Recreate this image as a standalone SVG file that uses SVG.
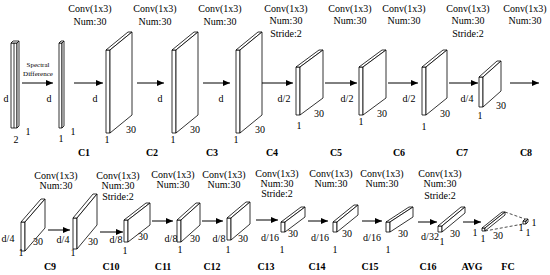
<svg xmlns="http://www.w3.org/2000/svg" width="550" height="275" viewBox="0 0 550 275">
<defs>
<marker id="ah" markerWidth="7" markerHeight="6" refX="7" refY="3" orient="auto" markerUnits="userSpaceOnUse"><path d="M0,0 L7,3 L0,6 z" fill="#000"/></marker>
</defs>
<style>
.b polygon{fill:#fff;stroke:#000;stroke-width:0.8;stroke-linejoin:miter}
.t{font-family:"Liberation Serif","Times New Roman",serif;font-size:10px;fill:#000;text-anchor:middle}
.s{font-size:7px}
.lb{font-weight:bold}
.a line{stroke:#000;stroke-width:1;marker-end:url(#ah)}
.d{stroke:#000;stroke-width:0.7;stroke-dasharray:3,2;fill:none}
</style>
<rect width="550" height="275" fill="#fff"/>
<g id="connectors" class="a">
<line x1="22" y1="83" x2="53" y2="83"/>
<line x1="74" y1="83" x2="103" y2="83"/>
<line x1="137" y1="83" x2="164" y2="83"/>
<line x1="203" y1="83" x2="230" y2="83"/>
<line x1="262" y1="83" x2="293" y2="83"/>
<line x1="325" y1="83" x2="357" y2="83"/>
<line x1="388" y1="83" x2="418" y2="83"/>
<line x1="449" y1="83" x2="478" y2="83"/>
<line x1="510" y1="83" x2="539" y2="83"/>
<line x1="48" y1="230" x2="70" y2="230"/>
<line x1="100" y1="232" x2="123" y2="232"/>
<line x1="152" y1="221" x2="173" y2="221"/>
<line x1="202" y1="221" x2="223" y2="221"/>
<line x1="256" y1="220" x2="278" y2="220"/>
<line x1="308" y1="221" x2="328" y2="221"/>
<line x1="362" y1="221" x2="382" y2="221"/>
<line x1="418" y1="222" x2="437" y2="222"/>
<line x1="463" y1="222" x2="481" y2="222"/>
<path class="d" d="M505,212 L525,219 M485,231 L523,224"/>
</g>
<g id="input" class="b">
<polygon points="11,43 17,43 17,128 11,128"/><polygon points="11,43 13,41 19,41 17,43"/><polygon points="17,43 19,41 19,126 17,128"/>
<line x1="14" y1="43" x2="14" y2="128" stroke="#000" stroke-width="0.8"/>
</g>
<g id="spec" class="b"><polygon points="59,43 62,43 62,128 59,128"/><polygon points="59,43 61,41 64,41 62,43"/><polygon points="62,43 64,41 64,126 62,128"/></g>
<g id="b1" class="b"><polygon points="106,50 110,50 110,133 106,133"/><polygon points="106,50 128,32 132,32 110,50"/><polygon points="110,50 132,32 132,115 110,133"/></g>
<g id="b2" class="b"><polygon points="172,50 176,50 176,133 172,133"/><polygon points="172,50 194,32 198,32 176,50"/><polygon points="176,50 198,32 198,115 176,133"/></g>
<g id="b3" class="b"><polygon points="236,50 240,50 240,133 236,133"/><polygon points="236,50 258,32 262,32 240,50"/><polygon points="240,50 262,32 262,115 240,133"/></g>
<g id="b4" class="b"><polygon points="296,67 300,67 300,115 296,115"/><polygon points="296,67 319,50 323,50 300,67"/><polygon points="300,67 323,50 323,98 300,115"/></g>
<g id="b5" class="b"><polygon points="359,67 363,67 363,115 359,115"/><polygon points="359,67 382,50 386,50 363,67"/><polygon points="363,67 386,50 386,98 363,115"/></g>
<g id="b6" class="b"><polygon points="422,67 426,67 426,115 422,115"/><polygon points="422,67 443,50 447,50 426,67"/><polygon points="426,67 447,50 447,98 426,115"/></g>
<g id="b7" class="b"><polygon points="479,77 483,77 483,107 479,107"/><polygon points="479,77 497,61 501,61 483,77"/><polygon points="483,77 501,61 501,91 483,107"/></g>
<g id="b8" class="b"><polygon points="21,222 25,222 25,251 21,251"/><polygon points="21,222 41,199 45,199 25,222"/><polygon points="25,222 45,199 45,228 25,251"/></g>
<g id="b9" class="b"><polygon points="73,218 77,218 77,249 73,249"/><polygon points="73,218 93,194 97,194 77,218"/><polygon points="77,218 97,194 97,225 77,249"/></g>
<g id="b10" class="b"><polygon points="124,220 128,220 128,242 124,242"/><polygon points="124,220 146,203 150,203 128,220"/><polygon points="128,220 150,203 150,225 128,242"/></g>
<g id="b11" class="b"><polygon points="177,220 181,220 181,242 177,242"/><polygon points="177,220 196,203 200,203 181,220"/><polygon points="181,220 200,203 200,225 181,242"/></g>
<g id="b12" class="b"><polygon points="227,218 231,218 231,240 227,240"/><polygon points="227,218 246,202 250,202 231,218"/><polygon points="231,218 250,202 250,224 231,240"/></g>
<g id="b13" class="b"><polygon points="281,222 285,222 285,232 281,232"/><polygon points="281,222 301,207 305,207 285,222"/><polygon points="285,222 305,207 305,217 285,232"/></g>
<g id="b14" class="b"><polygon points="333,222 337,222 337,232 333,232"/><polygon points="333,222 354,205 358,205 337,222"/><polygon points="337,222 358,205 358,215 337,232"/></g>
<g id="b15" class="b"><polygon points="386,222 390,222 390,232 386,232"/><polygon points="386,222 409,207 413,207 390,222"/><polygon points="390,222 413,207 413,217 390,232"/></g>
<g id="b16" class="b"><polygon points="438,226 442,226 442,232 438,232"/><polygon points="438,226 461,207 465,207 442,226"/><polygon points="442,226 465,207 465,213 442,232"/></g>
<g id="avg" class="b"><polygon points="482,228 485,228 485,231 482,231"/><polygon points="482,228 502,212 505,212 485,228"/><polygon points="485,228 505,212 505,215 485,231"/></g>
<g id="fc" class="b"><polygon points="523,221 526,221 526,224 523,224"/><polygon points="523,221 525,219 528,219 526,221"/><polygon points="526,221 528,219 528,222 526,224"/></g>
<g id="labels" class="t">
<text class="t s" x="38" y="67">Spectral</text><text class="t s" x="38" y="76">Difference</text>
<text x="90" y="12">Conv(1x3)</text><text x="90" y="25">Num:30</text>
<text x="155" y="12">Conv(1x3)</text><text x="155" y="25">Num:30</text>
<text x="220" y="12">Conv(1x3)</text><text x="220" y="25">Num:30</text>
<text x="286" y="12">Conv(1x3)</text><text x="286" y="24">Num:30</text><text x="286" y="37">Stride:2</text>
<text x="350" y="12">Conv(1x3)</text><text x="350" y="24">Num:30</text>
<text x="404" y="12">Conv(1x3)</text><text x="404" y="24">Num:30</text>
<text x="468" y="12">Conv(1x3)</text><text x="468" y="24">Num:30</text><text x="468" y="37">Stride:2</text>
<text x="525" y="12">Conv(1x3)</text><text x="525" y="24">Num:30</text>
<text x="6" y="102">d</text><text x="16" y="143">2</text><text x="28" y="135">1</text>
<text x="49" y="102">d</text><text x="61" y="142">1</text><text x="73" y="135">1</text>
<text x="95" y="102">d</text><text x="131" y="133">30</text><text x="107" y="143">1</text>
<text x="160" y="102">d</text><text x="195" y="133">30</text><text x="173" y="143">1</text>
<text x="221" y="102">d</text><text x="260" y="133">30</text><text x="236" y="143">1</text>
<text x="284" y="102">d/2</text><text x="319" y="117">30</text><text x="299" y="129">1</text>
<text x="347" y="102">d/2</text><text x="382" y="117">30</text><text x="361" y="125">1</text>
<text x="409" y="102">d/2</text><text x="445" y="117">30</text><text x="424" y="130">1</text>
<text x="467" y="102">d/4</text><text x="501" y="109">30</text><text x="480" y="119">1</text>
<text class="t lb" x="84" y="156">C1</text><text class="t lb" x="152" y="156">C2</text><text class="t lb" x="212" y="156">C3</text><text class="t lb" x="272" y="156">C4</text>
<text class="t lb" x="336" y="156">C5</text><text class="t lb" x="399" y="156">C6</text><text class="t lb" x="462" y="156">C7</text><text class="t lb" x="526" y="156">C8</text>
<text x="56" y="179">Conv(1x3)</text><text x="56" y="189">Num:30</text>
<text x="118" y="179">Conv(1x3)</text><text x="118" y="189">Num:30</text><text x="118" y="200">Stride:2</text>
<text x="173" y="178">Conv(1x3)</text><text x="173" y="188">Num:30</text>
<text x="224" y="178">Conv(1x3)</text><text x="224" y="188">Num:30</text>
<text x="277" y="177">Conv(1x3)</text><text x="277" y="187">Num:30</text><text x="277" y="197">Stride:2</text>
<text x="331" y="177">Conv(1x3)</text><text x="331" y="187">Num:30</text>
<text x="382" y="177">Conv(1x3)</text><text x="382" y="187">Num:30</text>
<text x="440" y="177">Conv(1x3)</text><text x="440" y="187">Num:30</text><text x="440" y="199">Stride:2</text>
<text x="8" y="242">d/4</text><text x="38" y="245">30</text><text x="21" y="256">1</text>
<text x="63" y="243">d/4</text><text x="93" y="245">30</text><text x="73" y="256">1</text>
<text x="116" y="243">d/8</text><text x="143" y="240">30</text><text x="125" y="254">1</text>
<text x="171" y="242">d/8</text><text x="195" y="242">30</text><text x="180" y="253">1</text>
<text x="219" y="242">d/8</text><text x="243" y="242">30</text><text x="228" y="253">1</text>
<text x="270" y="241">d/16</text><text x="293" y="237">30</text><text x="282" y="253">1</text>
<text x="320" y="241">d/16</text><text x="347" y="237">30</text><text x="335" y="253">1</text>
<text x="372" y="241">d/16</text><text x="403" y="237">30</text><text x="388" y="253">1</text>
<text x="430" y="240">d/32</text><text x="455" y="237">30</text><text x="442" y="245">1</text>
<text x="475" y="236">1</text><text x="483" y="242">1</text><text x="498" y="239">30</text>
<text x="534" y="226">1</text><text x="521" y="231">1</text><text x="528" y="236">1</text>
<text class="t lb" x="50" y="270">C9</text><text class="t lb" x="111" y="270">C10</text><text class="t lb" x="163" y="270">C11</text><text class="t lb" x="212" y="270">C12</text>
<text class="t lb" x="266" y="270">C13</text><text class="t lb" x="317" y="270">C14</text><text class="t lb" x="370" y="270">C15</text><text class="t lb" x="428" y="270">C16</text>
<text class="t lb" x="472" y="270">AVG</text><text class="t lb" x="508" y="270">FC</text>
</g>
</svg>
